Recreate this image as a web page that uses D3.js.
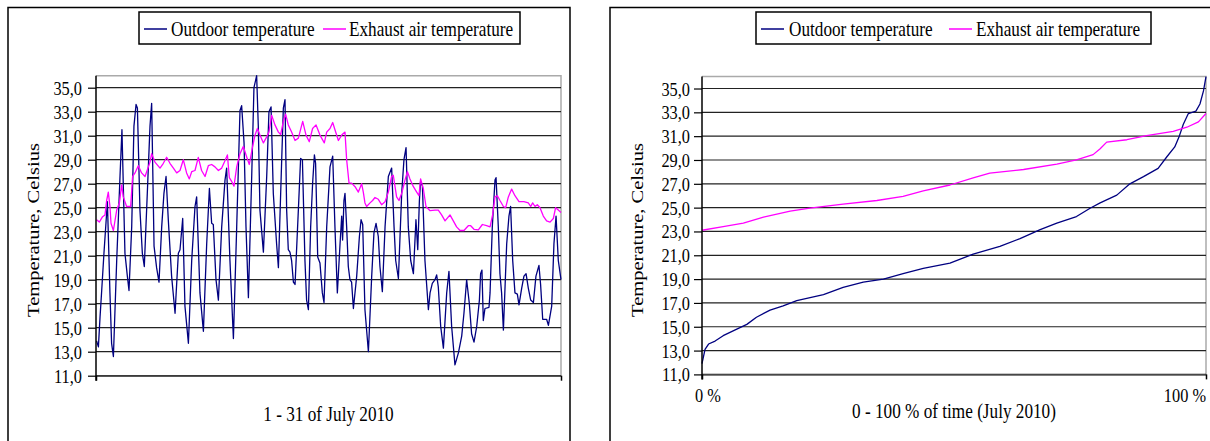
<!DOCTYPE html>
<html>
<head>
<meta charset="utf-8">
<script src="https://cdn.jsdelivr.net/npm/d3@7"></script>
<style>
  body { margin: 0; background: #fff; }
  svg { display: block; }
  text { font-family: "Liberation Serif", "Times New Roman", serif; fill: #000; }
</style>
</head>
<body>
<svg id="chart" width="1210" height="441"></svg>
<script>
// series names and axis ticks
var seriesNames = ["Outdoor temperature", "Exhaust air temperature"];
var yTicks = [11, 13, 15, 17, 19, 21, 23, 25, 27, 29, 31, 33, 35];
var timeTitle = "1 - 31 of July 2010";
var durationTitle = "0 - 100 % of time (July 2010)";
var durationTickLabels = ["0 %", "100 %"];

// [day of July, °C]
var outdoorSeries = [[0.04,13.9],[0.16,13.4],[0.27,15.9],[0.38,18.1],[0.53,21.2],[0.76,25.5],[0.93,17.9],[1.04,13.7],[1.16,12.6],[1.38,20.6],[1.6,27.6],[1.73,31.5],[1.93,21.2],[2.09,19.3],[2.2,18.1],[2.38,23.4],[2.53,31.8],[2.67,33.6],[2.76,33.3],[2.93,24.8],[3.09,21.2],[3.22,20.1],[3.42,26.2],[3.6,31.8],[3.71,33.7],[3.87,21.8],[4.04,20.0],[4.2,18.8],[4.38,23.4],[4.53,26.2],[4.67,27.6],[4.82,24.0],[5.04,19.3],[5.27,16.2],[5.49,21.2],[5.6,21.5],[5.78,24.1],[5.93,16.8],[6.16,13.7],[6.38,20.6],[6.6,25.1],[6.71,25.9],[6.93,17.9],[7.16,14.7],[7.38,22.0],[7.56,26.6],[7.71,23.7],[7.82,23.6],[8.0,19.0],[8.16,17.3],[8.38,23.4],[8.6,27.3],[8.71,28.3],[8.93,20.6],[9.16,14.1],[9.38,23.4],[9.6,33.1],[9.71,33.5],[9.87,30.4],[10.0,23.4],[10.16,17.5],[10.38,27.6],[10.53,35.0],[10.71,36.0],[10.82,31.8],[10.93,24.8],[11.16,21.3],[11.38,27.6],[11.53,33.0],[11.67,33.4],[11.82,26.2],[12.04,22.0],[12.16,20.0],[12.38,29.0],[12.49,33.3],[12.6,34.0],[12.71,24.8],[12.82,21.5],[12.93,21.3],[13.04,20.6],[13.16,18.8],[13.27,18.6],[13.49,24.8],[13.64,29.1],[13.76,29.0],[13.93,20.6],[14.04,17.3],[14.16,16.5],[14.31,23.4],[14.44,27.0],[14.56,29.4],[14.64,28.7],[14.78,20.9],[14.93,20.4],[15.09,17.9],[15.2,17.1],[15.38,23.4],[15.6,28.4],[15.78,29.3],[15.93,23.4],[16.09,17.9],[16.27,22.0],[16.38,24.3],[16.44,22.3],[16.53,25.6],[16.6,26.2],[16.71,23.4],[16.82,20.1],[16.93,19.0],[17.04,18.8],[17.16,16.6],[17.38,19.3],[17.56,22.6],[17.67,24.0],[17.78,23.6],[17.93,16.5],[18.16,13.0],[18.38,19.3],[18.53,22.9],[18.67,23.7],[18.82,22.6],[18.93,20.1],[19.09,18.0],[19.27,23.4],[19.49,27.6],[19.71,28.3],[19.87,23.4],[19.98,20.6],[20.16,19.1],[20.38,26.2],[20.53,29.0],[20.67,30.0],[20.82,23.4],[20.98,20.6],[21.16,19.5],[21.33,24.0],[21.45,21.5],[21.56,25.6],[21.64,27.2],[21.76,26.8],[21.93,20.6],[22.16,16.5],[22.27,17.9],[22.42,18.7],[22.6,19.0],[22.71,19.4],[22.82,18.4],[22.98,15.1],[23.16,13.3],[23.38,17.9],[23.53,19.7],[23.71,15.1],[23.93,11.9],[24.16,12.9],[24.38,14.3],[24.53,16.2],[24.71,19.0],[24.89,17.0],[25.04,14.5],[25.2,13.8],[25.38,15.1],[25.56,17.3],[25.64,19.5],[25.73,19.8],[25.82,15.6],[25.93,16.6],[26.2,16.7],[26.27,17.9],[26.42,23.4],[26.6,27.3],[26.67,27.5],[26.82,23.4],[26.93,19.5],[27.04,17.9],[27.16,14.8],[27.38,22.0],[27.53,24.3],[27.64,25.1],[27.78,20.6],[27.93,17.9],[28.09,17.8],[28.2,16.9],[28.38,18.3],[28.53,19.3],[28.67,19.5],[28.82,18.3],[28.98,17.3],[29.16,17.1],[29.33,19.3],[29.53,20.2],[29.64,18.6],[29.78,15.7],[30.04,15.7],[30.16,15.2],[30.38,16.8],[30.53,22.0],[30.67,24.3],[30.82,20.6],[31.0,19.0]];

var exhaustSeries = [[0.04,24.0],[0.22,23.8],[0.44,24.25],[0.6,24.4],[0.71,25.6],[0.82,26.3],[0.93,25.1],[1.0,23.7],[1.16,23.1],[1.38,24.8],[1.56,25.4],[1.71,26.9],[1.82,25.9],[2.04,25.1],[2.31,25.1],[2.44,27.6],[2.6,27.9],[2.82,28.5],[3.04,27.9],[3.27,27.6],[3.49,28.4],[3.6,28.8],[3.71,29.5],[3.93,28.8],[4.27,28.3],[4.49,28.7],[4.71,29.2],[4.93,28.7],[5.16,28.3],[5.38,27.9],[5.6,28.1],[5.82,29.0],[6.04,27.9],[6.22,27.4],[6.38,28.0],[6.6,28.1],[6.82,29.2],[7.04,28.1],[7.27,27.6],[7.49,28.5],[7.71,28.6],[7.93,28.4],[8.16,28.1],[8.38,28.3],[8.56,28.8],[8.76,29.4],[8.89,27.5],[9.04,27.2],[9.2,26.8],[9.38,28.4],[9.6,29.5],[9.82,30.1],[10.04,29.25],[10.22,28.6],[10.44,30.1],[10.6,31.05],[10.76,31.6],[10.93,31.05],[11.16,30.4],[11.38,30.9],[11.53,31.3],[11.71,32.7],[11.93,31.9],[12.16,31.3],[12.31,31.1],[12.49,32.2],[12.64,32.8],[12.82,31.9],[13.04,31.3],[13.27,30.6],[13.49,30.8],[13.78,32.2],[14.0,31.05],[14.22,30.5],[14.44,31.6],[14.67,31.9],[14.93,31.05],[15.22,30.4],[15.38,31.3],[15.6,31.6],[15.78,32.1],[15.93,31.5],[16.16,30.6],[16.38,31.05],[16.6,31.3],[16.71,29.0],[16.87,27.05],[17.04,27.05],[17.27,26.75],[17.49,26.3],[17.71,27.0],[17.82,26.3],[17.93,25.4],[18.04,25.1],[18.27,25.4],[18.44,25.6],[18.6,25.85],[18.82,25.7],[19.04,25.25],[19.27,25.5],[19.49,26.3],[19.71,27.6],[19.82,27.7],[20.04,25.9],[20.2,25.6],[20.38,26.2],[20.6,27.3],[20.76,28.0],[20.93,27.4],[21.16,26.75],[21.38,26.3],[21.53,26.0],[21.64,27.4],[21.82,26.6],[22.0,25.1],[22.27,24.75],[22.6,24.8],[22.82,24.8],[23.04,24.4],[23.27,23.9],[23.6,24.4],[23.82,23.9],[24.04,23.4],[24.27,23.1],[24.53,23.1],[24.82,23.5],[24.98,23.5],[25.2,23.2],[25.49,23.15],[25.76,23.6],[26.04,23.5],[26.27,23.4],[26.44,24.4],[26.6,25.9],[26.76,26.0],[26.93,25.6],[27.16,25.1],[27.31,25.0],[27.49,25.9],[27.71,26.55],[27.93,26.0],[28.2,25.5],[28.53,25.5],[28.82,25.4],[28.98,25.1],[29.11,25.4],[29.27,25.1],[29.42,25.25],[29.6,25.0],[29.82,24.3],[30.04,23.9],[30.27,23.8],[30.49,24.1],[30.64,25.0],[30.82,24.8],[31.0,24.6]];

var outdoorDuration = [[0,11.9],[0.6,13.1],[1.3,13.55],[2.6,13.8],[4.2,14.25],[6.9,14.8],[8.9,15.2],[10.8,15.8],[13.5,16.4],[16.1,16.75],[18.8,17.2],[24.1,17.7],[28.0,18.3],[32.0,18.75],[36.0,19.0],[39.9,19.45],[43.9,19.9],[49.2,20.35],[53.8,21.1],[59.1,21.75],[63.1,22.4],[67.1,23.15],[70.4,23.7],[74.3,24.25],[77.0,24.95],[79.0,25.4],[82.3,26.05],[84.9,27.0],[87.6,27.6],[90.5,28.3],[92.2,29.25],[93.8,30.1],[94.7,31.0],[95.5,32.0],[96.5,32.9],[98.0,33.1],[98.8,33.7],[99.5,34.8],[100,36.0]];

var exhaustDuration = [[0,23.1],[4.2,23.4],[8.2,23.7],[12.2,24.2],[17.5,24.7],[21.4,24.95],[28.0,25.3],[34.7,25.6],[39.9,25.95],[43.9,26.4],[49.2,26.9],[53.8,27.5],[57.1,27.9],[63.8,28.2],[70.4,28.65],[74.3,29.0],[77.6,29.45],[79.0,29.95],[80.3,30.5],[84.3,30.7],[88.2,31.05],[93.5,31.4],[96.2,31.75],[98.5,32.2],[100,32.9]];

var colors = ["#000080", "#ff00ff"];
var squeeze = 0.86;  // the source picture is narrower than tall, so text is condensed

var svg = d3.select("#chart");
var fmt = function (d) { return d3.format(".1f")(d).replace(".", ","); };

function label(g, x, y, str, size, anchor) {
  return g.append("text")
    .attr("transform", "translate(" + x + "," + y + ") scale(" + squeeze + ",1)")
    .attr("text-anchor", anchor || "start")
    .attr("font-size", size)
    .text(str);
}

function drawPanel(cfg) {
  var g = svg.append("g");

  // frame of the panel
  g.append("rect")
    .attr("x", cfg.frame[0]).attr("y", cfg.frame[1])
    .attr("width", cfg.frame[2]).attr("height", 460)
    .attr("fill", "none").attr("stroke", "#000").attr("stroke-width", 1.5);

  var x = d3.scaleLinear().domain(cfg.xDomain).range(cfg.xRange);
  var y = d3.scaleLinear().domain([11, 36]).range(cfg.yRange);

  // plot area outline (light grey top and right)
  g.append("path")
    .attr("d", "M" + x.range()[0] + "," + y(36) + "H" + x.range()[1] + "V" + y(11))
    .attr("fill", "none").attr("stroke", "#aaa").attr("stroke-width", 1.5);

  // horizontal gridlines
  g.append("g").selectAll("line").data(yTicks).enter().append("line")
    .attr("x1", x.range()[0]).attr("x2", x.range()[1])
    .attr("y1", function (d) { return y(d); }).attr("y2", function (d) { return y(d); })
    .attr("stroke", d3.color("#222")).attr("stroke-width", 1.2);

  // series
  var line = d3.line()
    .x(function (d) { return x(d[0]); })
    .y(function (d) { return y(d[1]); });

  g.selectAll("path.series").data(cfg.series).enter().append("path")
    .attr("class", "series")
    .attr("d", line)
    .attr("fill", "none")
    .attr("stroke", function (d, i) { return colors[i]; })
    .attr("stroke-width", 1.3)
    .attr("stroke-linejoin", "round");

  // y axis
  var yAxis = g.append("g")
    .attr("transform", "translate(" + x.range()[0] + ",0)")
    .call(d3.axisLeft(y).tickValues(yTicks).tickSize(8).tickSizeOuter(0).tickFormat(fmt));
  yAxis.select(".domain").attr("stroke", "#000").attr("stroke-width", 1.5)
    .attr("d", "M0," + y(36) + "V" + (y(11) + 5));
  yAxis.selectAll(".tick line").attr("stroke", "#000").attr("stroke-width", 1.2);
  yAxis.selectAll(".tick text")
    .attr("x", null).attr("dy", null)
    .attr("transform", "translate(" + (-cfg.tickGap) + ",6.5) scale(" + squeeze + ",1)")
    .attr("font-size", 19).attr("font-family", null).attr("fill", "#000");

  // x axis: only end ticks
  var xAxis = g.append("g")
    .attr("transform", "translate(0," + y(11) + ")")
    .call(d3.axisBottom(x).tickValues(cfg.xDomain).tickSize(5).tickSizeOuter(0).tickFormat(""));
  xAxis.select(".domain").attr("stroke", "#555").attr("stroke-width", 1.5);
  xAxis.selectAll(".tick line").attr("stroke", "#000").attr("stroke-width", 1.5);

  if (cfg.xLabels) {
    label(g, x(cfg.xDomain[0]) - 7, 402, cfg.xLabels[0], 19, "start");
    label(g, x(cfg.xDomain[1]), 402, cfg.xLabels[1], 19, "end");
  }

  // axis titles
  label(g, (x.range()[0] + x.range()[1]) / 2, cfg.xTitleY, cfg.xTitle, 20, "middle");
  g.append("text")
    .attr("transform", "translate(" + cfg.yTitleX + ",230) scale(" + squeeze + ",1) rotate(-90)")
    .attr("text-anchor", "middle").attr("font-size", 20.5)
    .text("Temperature, Celsius");

  // legend
  var lg = cfg.legend;
  g.append("rect")
    .attr("x", lg.box[0]).attr("y", 12).attr("width", lg.box[1]).attr("height", 32)
    .attr("fill", "#fff").attr("stroke", "#000").attr("stroke-width", 1.5);
  seriesNames.forEach(function (name, i) {
    var it = lg.items[i];
    g.append("line")
      .attr("x1", it[0]).attr("x2", it[0] + 23).attr("y1", 29).attr("y2", 29)
      .attr("stroke", colors[i]).attr("stroke-width", 1.5);
    label(g, it[1], 35.5, name, 20, "start");
  });
}

drawPanel({
  frame: [8, 7.5, 562],
  xDomain: [0, 31], xRange: [96, 561], yRange: [375.7, 75.7],
  tickGap: 14,
  series: [outdoorSeries, exhaustSeries],
  xTitle: timeTitle, xTitleY: 421,
  yTitleX: 39,
  legend: { box: [139, 381], items: [[144, 171], [323, 349]] }
});

drawPanel({
  frame: [610, 7.5, 620],
  xDomain: [0, 100], xRange: [702, 1206], yRange: [374.4, 76.6],
  tickGap: 12,
  series: [outdoorDuration, exhaustDuration],
  xLabels: durationTickLabels,
  xTitle: durationTitle, xTitleY: 418,
  yTitleX: 643,
  legend: { box: [756, 395], items: [[761, 789], [949, 976]] }
});
</script>
</body>
</html>
